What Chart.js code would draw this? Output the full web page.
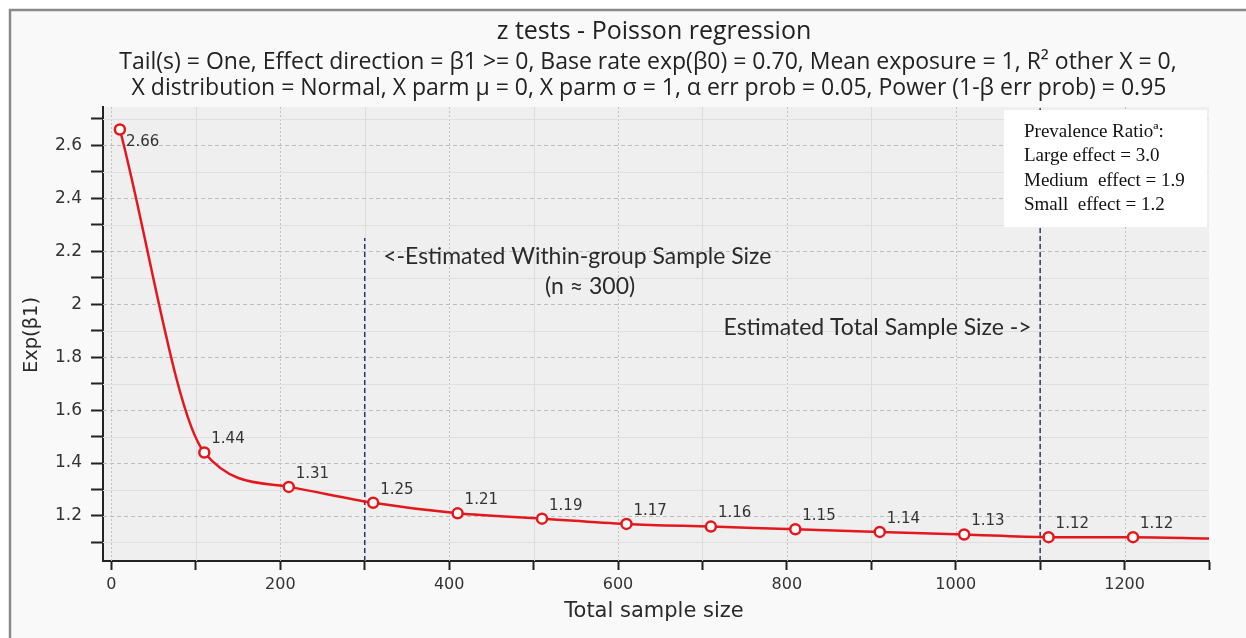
<!DOCTYPE html>
<html>
<head>
<meta charset="utf-8">
<script src="https://cdn.jsdelivr.net/npm/chart.js@4.4.1/dist/chart.umd.min.js"></script>
<style>
    html, body { margin: 0; padding: 0; background: #ffffff; overflow: hidden; }
    #wrap { width: 1246px; height: 638px; }
</style>
</head>
<body>
<div id="wrap"><canvas id="powerChart" width="1246" height="638"></canvas></div>
<script>
// Dữ liệu
const sampleSizes = [10, 110, 210, 310, 410, 510, 610, 710, 810, 910, 1010, 1110, 1210];
const effectValues = [2.66, 1.44, 1.31, 1.25, 1.21, 1.19, 1.17, 1.16, 1.15, 1.14, 1.13, 1.12, 1.12];
const tailX = [1300];
const tailY = [1.115];

const xTickValues = [0, 100, 200, 300, 400, 500, 600, 700, 800, 900, 1000, 1100, 1200, 1300];
const xTickLabels = [0, 200, 400, 600, 800, 1000, 1200];
const yTickValues = [1.1, 1.2, 1.3, 1.4, 1.5, 1.6, 1.7, 1.8, 1.9, 2.0, 2.1, 2.2, 2.3, 2.4, 2.5, 2.6, 2.7];
const yTickLabels = ['1.2', '1.4', '1.6', '1.8', '2', '2.2', '2.4', '2.6'];

const markerX = [300, 1100];
const markerTop = [2.25, 2.74];

const titleText = 'z tests - Poisson regression';
const subtitleLines = [
    'Tail(s) = One, Effect direction = β1 >= 0, Base rate exp(β0) = 0.70, Mean exposure = 1, R² other X = 0,',
    'X distribution = Normal, X parm μ = 0, X parm σ = 1, α err prob = 0.05, Power (1-β err prob) = 0.95'
];
const legendLines = ['Prevalence Ratioª:', 'Large effect = 3.0', 'Medium  effect = 1.9', 'Small  effect = 1.2'];

const X_MIN = -10, X_MAX = 1300, Y_MIN = 1.03, Y_MAX = 2.745;

const curveData = sampleSizes.map((x, i) => ({ x: x, y: effectValues[i] }))
    .concat(tailX.map((x, i) => ({ x: x, y: tailY[i] })));

const markerSets = markerX.map((x, i) => ({
    data: [{ x: x, y: Y_MIN }, { x: x, y: markerTop[i] }],
    borderColor: '#2b3a6b',
    borderWidth: 1.5,
    borderDash: [5, 3],
    pointRadius: 0,
    fill: false,
    order: 2
}));

// Vẽ nền, lưới, chữ
const decorPlugin = {
    id: 'decor',
    beforeDraw(chart) {
        const { ctx, chartArea: a } = chart;
        ctx.save();
        ctx.fillStyle = '#ffffff';
        ctx.fillRect(0, 0, chart.width, chart.height);
        ctx.fillStyle = '#f9f9f9';
        ctx.fillRect(10, 10, chart.width, chart.height);
        ctx.strokeStyle = '#8a8a8a';
        ctx.lineWidth = 2.5;
        ctx.beginPath();
        ctx.moveTo(10, chart.height + 5);
        ctx.lineTo(10, 10);
        ctx.lineTo(chart.width + 5, 10);
        ctx.stroke();
        ctx.fillStyle = '#efefef';
        ctx.fillRect(a.left, a.top, a.right - a.left, a.bottom - a.top);
        ctx.restore();
    },
    beforeDatasetsDraw(chart) {
        const { ctx, chartArea: a, scales } = chart;
        ctx.save();
        ctx.lineWidth = 1;
        xTickValues.forEach(v => {
            if (v >= X_MAX) return;
            const px = Math.round(scales.x.getPixelForValue(v)) + 0.5;
            const major = v % 200 === 0;
            ctx.strokeStyle = major ? '#c2c2c2' : '#dcdcdc';
            ctx.setLineDash(major ? [2, 2] : []);
            ctx.beginPath();
            ctx.moveTo(px, a.top);
            ctx.lineTo(px, a.bottom);
            ctx.stroke();
        });
        yTickValues.forEach(v => {
            const py = Math.round(scales.y.getPixelForValue(v)) + 0.5;
            const major = Math.round(v * 10) % 2 === 0;
            ctx.strokeStyle = major ? '#bdbdbd' : '#dfdfdf';
            ctx.setLineDash(major ? [4, 3] : []);
            ctx.beginPath();
            ctx.moveTo(a.left, py);
            ctx.lineTo(a.right, py);
            ctx.stroke();
        });
        ctx.restore();
    },
    afterDatasetsDraw(chart) {
        const { ctx, scales } = chart;
        const meta = chart.getDatasetMeta(0);
        ctx.save();

        // nhãn giá trị
        ctx.fillStyle = '#333333';
        ctx.font = '15px "DejaVu Sans"';
        ctx.textAlign = 'left';
        ctx.textBaseline = 'middle';
        sampleSizes.forEach((x, i) => {
            const p = meta.data[i];
            const dy = i === 0 ? 13 : -13;
            const dx = i === 0 ? 6 : 7;
            ctx.fillText(effectValues[i].toFixed(2), p.x + dx, p.y + dy);
        });

        // chú thích trong vùng vẽ
        ctx.fillStyle = '#2a2a2a';
        ctx.font = '23px Lato';
        ctx.textAlign = 'left';
        ctx.fillText('<-Estimated Within-group Sample Size', scales.x.getPixelForValue(322), scales.y.getPixelForValue(2.18), 388);
        ctx.textAlign = 'center';
        ctx.fillText('(n ≈ 300)', scales.x.getPixelForValue(567), scales.y.getPixelForValue(2.065), 98);
        ctx.textAlign = 'left';
        ctx.fillText('Estimated Total Sample Size ->', scales.x.getPixelForValue(725), scales.y.getPixelForValue(1.91), 311);

        // hộp chú giải
        ctx.fillStyle = '#ffffff';
        ctx.fillRect(1004, 110, 203, 117);
        ctx.fillStyle = '#111111';
        ctx.font = '19px "Liberation Serif"';
        ctx.textAlign = 'left';
        legendLines.forEach((t, i) => {
            ctx.fillText(t, 1024, 132 + i * 24.5, 165);
        });
        ctx.restore();
    },
    afterDraw(chart) {
        const { ctx } = chart;
        ctx.save();
        ctx.fillStyle = '#222222';
        ctx.textAlign = 'center';
        ctx.textBaseline = 'middle';
        ctx.font = '25px "Open Sans"';
        ctx.fillText(titleText, 654, 32, 320);
        ctx.font = '23px "Open Sans"';
        ctx.fillText(subtitleLines[0], 648, 62, 1080);
        ctx.fillText(subtitleLines[1], 649, 88, 1062);

        ctx.font = '21px "DejaVu Sans"';
        ctx.fillStyle = '#2a2a2a';
        ctx.fillText('Total sample size', 654, 612, 182);
        ctx.translate(32, 335);
        ctx.rotate(-Math.PI / 2);
        ctx.font = '500 20px "DejaVu Sans"';
        ctx.fillText('Exp(β1)', 0, 0, 76);
        ctx.restore();
    }
};

const ctx = document.getElementById('powerChart').getContext('2d');
const powerChart = new Chart(ctx, {
    type: 'line',
    data: {
        datasets: [{
            data: curveData,
            borderColor: '#e3181d',
            borderWidth: 2.5,
            cubicInterpolationMode: 'monotone',
            pointRadius: c => c.dataIndex < sampleSizes.length ? 5 : 0,
            pointBackgroundColor: '#ffffff',
            pointBorderColor: '#e3181d',
            pointBorderWidth: 2.5,
            fill: false,
            order: 1
        }].concat(markerSets)
    },
    options: {
        responsive: false,
        animation: false,
        layout: { padding: { left: 20, top: 107, right: 37, bottom: 0 } },
        plugins: {
            legend: { display: false },
            tooltip: { enabled: false },
            title: { display: false }
        },
        scales: {
            x: {
                type: 'linear',
                min: X_MIN,
                max: X_MAX,
                afterBuildTicks: s => { s.ticks = xTickValues.map(v => ({ value: v })); },
                afterFit: s => { s.height = 77; },
                ticks: {
                    callback: v => xTickLabels.includes(v) ? String(v) : '',
                    font: { family: 'DejaVu Sans', size: 16 },
                    color: '#333333',
                    padding: 5,
                    maxRotation: 0,
                    autoSkip: false
                },
                grid: { drawOnChartArea: false, drawTicks: true, tickLength: 9, tickWidth: 2, tickColor: '#222222' },
                border: { color: '#222222', width: 2 }
            },
            y: {
                type: 'linear',
                min: Y_MIN,
                max: Y_MAX,
                afterBuildTicks: s => { s.ticks = yTickValues.map(v => ({ value: v })); },
                afterFit: s => { s.width = 83; },
                ticks: {
                    callback: v => {
                        const t = String(Number(v.toFixed(1)));
                        return yTickLabels.includes(t) ? t : '';
                    },
                    font: { family: 'DejaVu Sans', size: 17 },
                    color: '#333333',
                    padding: 9,
                    autoSkip: false
                },
                grid: { drawOnChartArea: false, drawTicks: true, tickLength: 12, tickWidth: 2, tickColor: '#222222' },
                border: { color: '#222222', width: 2 }
            }
        }
    },
    plugins: [decorPlugin]
});
</script>
</body>
</html>
